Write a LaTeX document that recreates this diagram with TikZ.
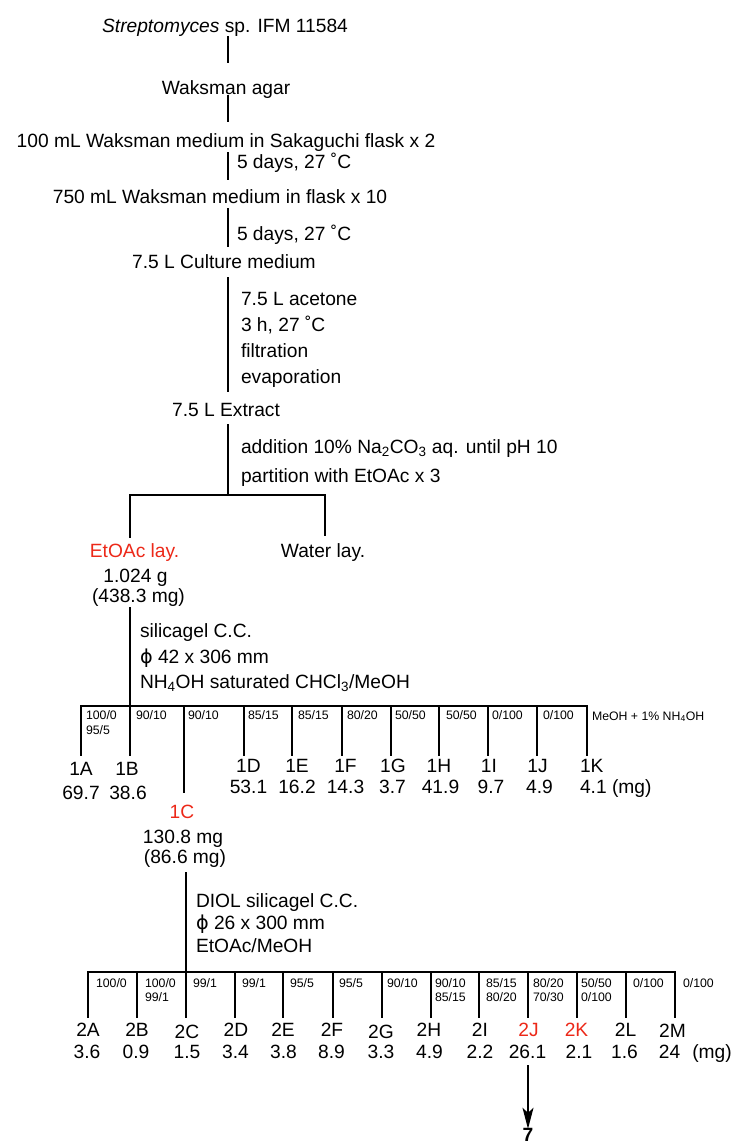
\documentclass[tikz,border=0pt]{standalone}
\usepackage{fontspec}
\setmainfont{Liberation Sans}
\newfontfamily\phifont{DejaVu Sans}
\usetikzlibrary{arrows.meta}
\definecolor{hl}{RGB}{236,40,24}
\newcommand{\phisym}{{\phifont ϕ}}
\begin{document}
\begin{tikzpicture}[x=1pt,y=-1pt,
  txt/.style={inner sep=0pt,outer sep=0pt,font=\fontsize{19.2}{22}\selectfont},
  sm/.style={inner sep=0pt,outer sep=0pt,font=\fontsize{12.3}{14}\selectfont},
  trunk/.style={line width=2.3pt},
  br/.style={line width=1.6pt,line cap=rect},
  hi/.style={text=hl}]
\useasboundingbox (0,0) rectangle (735,1144);

% ---- top chain
\node[txt,anchor=base] (s0) at (225,32) {\textit{Streptomyces} sp. IFM 11584};
\node[txt,anchor=base] (s1) at (226,94) {Waksman agar};
\node[txt,anchor=base] (s2) at (226,147) {100 mL Waksman medium in Sakaguchi flask x 2};
\node[txt,anchor=base] (s3) at (220,203) {750 mL Waksman medium in flask x 10};
\node[txt,anchor=base] (s4) at (224,268) {7.5 L Culture medium};
\node[txt,anchor=base] (s5) at (226,416) {7.5 L Extract};

\coordinate (t0a) at (228,36);  \coordinate (t0b) at (228,63);
\coordinate (t1a) at (228,95);  \coordinate (t1b) at (228,122);
\coordinate (t2a) at (228,152); \coordinate (t2b) at (228,180);
\coordinate (t3a) at (228,208); \coordinate (t3b) at (228,247);
\coordinate (t4a) at (228,277); \coordinate (t4b) at (228,392);
\draw[trunk] (t0a) -- (t0b);
\draw[trunk] (t1a) -- (t1b);
\draw[trunk] (t2a) -- (t2b);
\draw[trunk] (t3a) -- (t3b);
\draw[trunk] (t4a) -- (t4b);

\node[txt,anchor=base west] (c1) at (237,168) {5 days, 27 ˚C};
\node[txt,anchor=base west] (c2) at (237,240) {5 days, 27 ˚C};
\node[txt,anchor=base west] (a1) at (241,305) {7.5 L acetone};
\node[txt,anchor=base west] (a2) at (241,331) {3 h, 27 ˚C};
\node[txt,anchor=base west] (a3) at (241,357) {filtration};
\node[txt,anchor=base west] (a4) at (241,383) {evaporation};

% ---- partition
\node[txt,anchor=base west] (p1) at (241,453) {addition 10\% Na\textsubscript{2}CO\textsubscript{3} aq. until pH 10};
\node[txt,anchor=base west] (p2) at (241,482) {partition with EtOAc x 3};
\coordinate (x0) at (228,425);
\coordinate (x1) at (228,495);
\coordinate (xl) at (130,495);
\coordinate (xr) at (325,495);
\coordinate (xlb) at (130,537);
\coordinate (xrb) at (325,535);
\draw[br] (x0) -- (x1);
\draw[br] (xl) -- (xr);
\draw[br] (xl) -- (xlb);
\draw[br] (xr) -- (xrb);

\node[txt,anchor=base,hi] (eto) at (134.5,557) {EtOAc lay.};
\node[txt,anchor=base] (wat) at (323,557) {Water lay.};
\node[txt,anchor=base] (eto2) at (135.5,582) {1.024 g};
\node[txt,anchor=base] (eto3) at (138.5,602) {(438.3 mg)};

% ---- first column
\coordinate (k0) at (130,608);
\node[txt,anchor=base west] (k1) at (140,637) {silicagel C.C.};
\node[txt,anchor=base west] (k2) at (140,663) {\phisym\ 42 x 306 mm};
\node[txt,anchor=base west] (k3) at (140,688) {NH\textsubscript{4}OH saturated CHCl\textsubscript{3}/MeOH};

\foreach \n/\x in {a/81,b/130,d/244,e/292,f/342,g/391,h/439,i/488,j/537,k/587} {
  \coordinate (r1\n t) at (\x,706);
  \coordinate (r1\n b) at (\x,755);
  \draw[br] (r1\n t) -- (r1\n b);
}
\coordinate (r1ct) at (184,706);
\coordinate (r1cb) at (184,792);
\draw[br] (r1ct) -- (r1cb);
\draw[br] (r1at) -- (r1kt);
\draw[br] (k0) -- (r1bt);

\node[sm,anchor=base west] (m1a) at (86,719) {100/0};
\node[sm,anchor=base west] (m1a2) at (86,734) {95/5};
\node[sm,anchor=base west] (m1b) at (136,719) {90/10};
\node[sm,anchor=base west] (m1c) at (188,719) {90/10};
\node[sm,anchor=base west] (m1d) at (248,719) {85/15};
\node[sm,anchor=base west] (m1e) at (298,719) {85/15};
\node[sm,anchor=base west] (m1f) at (347,719) {80/20};
\node[sm,anchor=base west] (m1g) at (395,719) {50/50};
\node[sm,anchor=base west] (m1h) at (446,719) {50/50};
\node[sm,anchor=base west] (m1i) at (492,719) {0/100};
\node[sm,anchor=base west] (m1j) at (543,719) {0/100};
\node[sm,anchor=base west] (m1k) at (592,720) {MeOH + 1\% NH\textsubscript{4}OH};

\node[txt,anchor=base] (f1A) at (81,775) {1A};
\node[txt,anchor=base] (v1A) at (81,799) {69.7};
\node[txt,anchor=base] (f1B) at (127,775) {1B};
\node[txt,anchor=base] (v1B) at (128,799) {38.6};
\node[txt,anchor=base] (f1D) at (248.5,772) {1D};
\node[txt,anchor=base] (v1D) at (248.5,793) {53.1};
\node[txt,anchor=base] (f1E) at (297,772) {1E};
\node[txt,anchor=base] (v1E) at (297,793) {16.2};
\node[txt,anchor=base] (f1F) at (345.5,772) {1F};
\node[txt,anchor=base] (v1F) at (345.5,793) {14.3};
\node[txt,anchor=base] (f1G) at (393,772) {1G};
\node[txt,anchor=base] (v1G) at (392.5,793) {3.7};
\node[txt,anchor=base] (f1H) at (439,772) {1H};
\node[txt,anchor=base] (v1H) at (440.5,793) {41.9};
\node[txt,anchor=base] (f1I) at (489,772) {1I};
\node[txt,anchor=base] (v1I) at (491,793) {9.7};
\node[txt,anchor=base] (f1J) at (537.5,772) {1J};
\node[txt,anchor=base] (v1J) at (539.5,793) {4.9};
\node[txt,anchor=base west] (f1K) at (580,772) {1K};
\node[txt,anchor=base west] (v1K) at (580,793) {4.1 (mg)};

% ---- 1C
\node[txt,anchor=base,hi] (f1C) at (182,818) {1C};
\node[txt,anchor=base] (v1C) at (183,843) {130.8 mg};
\node[txt,anchor=base] (v1C2) at (185,863) {(86.6 mg)};

\coordinate (q0) at (186,873);
\node[txt,anchor=base west] (q1) at (196,907) {DIOL silicagel C.C.};
\node[txt,anchor=base west] (q2) at (196,929) {\phisym\ 26 x 300 mm};
\node[txt,anchor=base west] (q3) at (196,952) {EtOAc/MeOH};

\foreach \n/\x in {A/88,B/137,C/186,D/235,E/283,F/333,G/382,H/431,I/479,J/528,K/577,L/626,M/675} {
  \coordinate (r2\n t) at (\x,972);
  \coordinate (r2\n b) at (\x,1017);
  \draw[br] (r2\n t) -- (r2\n b);
}
\draw[br] (r2At) -- (r2Mt);
\draw[br] (q0) -- (r2Ct);

\node[sm,anchor=base west] (m2a) at (96,987) {100/0};
\node[sm,anchor=base west] (m2b) at (145,987) {100/0};
\node[sm,anchor=base west] (m2b2) at (145,1001) {99/1};
\node[sm,anchor=base west] (m2c) at (193,987) {99/1};
\node[sm,anchor=base west] (m2d) at (242,987) {99/1};
\node[sm,anchor=base west] (m2e) at (290,987) {95/5};
\node[sm,anchor=base west] (m2f) at (339,987) {95/5};
\node[sm,anchor=base west] (m2g) at (387,987) {90/10};
\node[sm,anchor=base west] (m2h) at (435,987) {90/10};
\node[sm,anchor=base west] (m2h2) at (435,1001) {85/15};
\node[sm,anchor=base west] (m2i) at (486,987) {85/15};
\node[sm,anchor=base west] (m2i2) at (486,1001) {80/20};
\node[sm,anchor=base west] (m2j) at (533,987) {80/20};
\node[sm,anchor=base west] (m2j2) at (533,1001) {70/30};
\node[sm,anchor=base west] (m2k) at (581,987) {50/50};
\node[sm,anchor=base west] (m2k2) at (581,1001) {0/100};
\node[sm,anchor=base west] (m2l) at (633,987) {0/100};
\node[sm,anchor=base west] (m2m) at (683,987) {0/100};

\node[txt,anchor=base] (f2A) at (88,1036) {2A};
\node[txt,anchor=base] (v2A) at (87,1058) {3.6};
\node[txt,anchor=base] (f2B) at (137,1036) {2B};
\node[txt,anchor=base] (v2B) at (136,1058) {0.9};
\node[txt,anchor=base] (f2C) at (187,1038) {2C};
\node[txt,anchor=base] (v2C) at (187,1058) {1.5};
\node[txt,anchor=base] (f2D) at (236,1036) {2D};
\node[txt,anchor=base] (v2D) at (235.5,1058) {3.4};
\node[txt,anchor=base] (f2E) at (283,1036) {2E};
\node[txt,anchor=base] (v2E) at (283.5,1058) {3.8};
\node[txt,anchor=base] (f2F) at (332,1036) {2F};
\node[txt,anchor=base] (v2F) at (331.5,1058) {8.9};
\node[txt,anchor=base] (f2G) at (381,1038) {2G};
\node[txt,anchor=base] (v2G) at (381,1058) {3.3};
\node[txt,anchor=base] (f2H) at (429,1036) {2H};
\node[txt,anchor=base] (v2H) at (429.5,1058) {4.9};
\node[txt,anchor=base] (f2I) at (480,1036) {2I};
\node[txt,anchor=base] (v2I) at (480,1058) {2.2};
\node[txt,anchor=base,hi] (f2J) at (528.5,1036) {2J};
\node[txt,anchor=base] (v2J) at (527.5,1058) {26.1};
\node[txt,anchor=base,hi] (f2K) at (576.5,1036) {2K};
\node[txt,anchor=base] (v2K) at (579,1058) {2.1};
\node[txt,anchor=base] (f2L) at (625.5,1036) {2L};
\node[txt,anchor=base] (v2L) at (624.5,1058) {1.6};
\node[txt,anchor=base] (f2M) at (672.5,1037) {2M};
\node[txt,anchor=base] (v2M) at (669.5,1058) {24};
\node[txt,anchor=base] (mg2) at (712,1058) {(mg)};

% ---- arrow to 7
\coordinate (ar0) at (528,1065);
\node[txt,anchor=base,font=\fontsize{19.2}{22}\selectfont\bfseries] (seven) at (528,1141.5) {7};
\draw[line width=1.3pt,-{Stealth[length=21pt,width=11pt,inset=5pt]}] (ar0) -- ([yshift=-0.5pt]seven.north);
\end{tikzpicture}
\end{document}
